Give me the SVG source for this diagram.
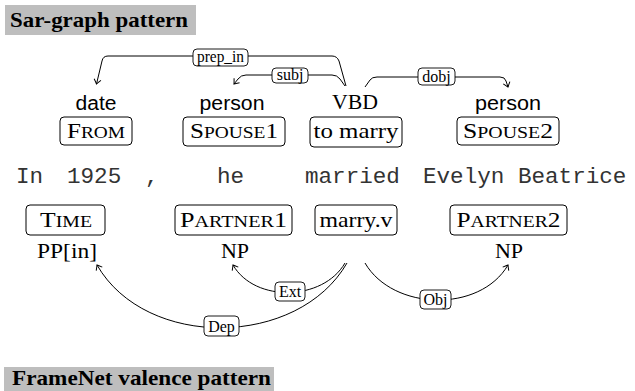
<svg xmlns="http://www.w3.org/2000/svg" width="635" height="391" viewBox="0 0 635 391">
<style>
.title{font-family:"Liberation Serif",serif;font-weight:bold;font-size:21px;fill:#000}
.tbg{fill:#bebebe}
.sans{font-family:"Liberation Sans",Arial,sans-serif;font-size:20px;text-anchor:middle;fill:#000}
.ser{font-family:"Liberation Serif",serif;font-size:22px;text-anchor:middle;fill:#000}
.sc{font-size:17px}
.mono{font-family:"Liberation Mono",monospace;font-size:22.6px;fill:#333}
.box{fill:#fff;stroke:#000;stroke-width:1}
.lbl{fill:#fff;stroke:#000;stroke-width:0.9}
.lt{font-family:"Liberation Serif",serif;font-size:16px;text-anchor:middle;fill:#000}
.edge{fill:none;stroke:#000;stroke-width:1}
</style>
<defs>
<marker id="ah" viewBox="-6 -5 7 10" markerWidth="7" markerHeight="10" refX="0" refY="0" orient="auto" markerUnits="userSpaceOnUse">
<path d="M -4.5 -3.5 Q -1.2 -0.8 0 0 Q -1.2 0.8 -4.5 3.5" fill="none" stroke="#000" stroke-width="1"/>
</marker>
</defs>
<rect width="635" height="391" fill="#fff"/>

<g id="title1">
<rect class="tbg" x="5" y="5" width="191" height="30"/>
<text class="title" x="10" y="27" textLength="178" lengthAdjust="spacingAndGlyphs">Sar-graph pattern</text>
</g>
<g id="title2">
<rect class="tbg" x="4" y="367" width="270" height="30"/>
<text class="title" x="12" y="385" textLength="259" lengthAdjust="spacingAndGlyphs">FrameNet valence pattern</text>
</g>

<g id="connectors">
<path class="edge" marker-end="url(#ah)" d="M 346 86 L 339 61 Q 337 56 332 56 L 108 56 Q 103 56 102 61 L 96.5 84"/>
<path class="edge" marker-end="url(#ah)" d="M 345 86 L 340 79 Q 337 75 332 75 L 246 75 Q 241 75 238 79 L 234 84"/>
<path class="edge" marker-end="url(#ah)" d="M 365 87 L 370 80 Q 372 77 377 77 L 500 77 Q 505 77 506 81 L 508 87"/>
<path class="edge" marker-end="url(#ah)" d="M 347 263 C 298 348, 146 350, 97 265"/>
<path class="edge" marker-end="url(#ah)" d="M 345 263 C 323 301, 255 303, 233 265"/>
<path class="edge" marker-end="url(#ah)" d="M 365 263 C 393 311, 480 313, 508 265"/>
<g id="lbl-prep_in"><rect class="lbl" x="193" y="49" width="55" height="17" rx="4"/><text class="lt" x="220.5" y="62" textLength="47" lengthAdjust="spacingAndGlyphs">prep_in</text></g>
<g id="lbl-subj"><rect class="lbl" x="272" y="68" width="36" height="15" rx="4"/><text class="lt" x="290" y="80">subj</text></g>
<g id="lbl-dobj"><rect class="lbl" x="418" y="68" width="37" height="17" rx="4"/><text class="lt" x="436.5" y="81.5">dobj</text></g>
<g id="lbl-ext"><rect class="lbl" x="275" y="282" width="30" height="19" rx="4"/><text class="lt" x="290" y="297">Ext</text></g>
<g id="lbl-dep"><rect class="lbl" x="204" y="316" width="35" height="20" rx="4"/><text class="lt" x="221.5" y="331.5">Dep</text></g>
<g id="lbl-obj"><rect class="lbl" x="420" y="290" width="31" height="19" rx="4"/><text class="lt" x="435.5" y="305">Obj</text></g>
</g>

<g id="from">
<text class="sans" x="96" y="110" textLength="41" lengthAdjust="spacingAndGlyphs">date</text>
<rect class="box" x="60" y="117" width="72" height="28" rx="4"/>
<text class="ser" x="96" y="138" textLength="58" lengthAdjust="spacingAndGlyphs">F<tspan class="sc">ROM</tspan></text>
</g>
<g id="spouse1">
<text class="sans" x="232" y="110" textLength="65" lengthAdjust="spacingAndGlyphs">person</text>
<rect class="box" x="183" y="117" width="102" height="29" rx="4"/>
<text class="ser" x="234" y="138" textLength="88" lengthAdjust="spacingAndGlyphs">S<tspan class="sc">POUSE</tspan>1</text>
</g>
<g id="tomarry">
<text class="ser" x="355" y="109" textLength="46" lengthAdjust="spacingAndGlyphs">VBD</text>
<rect class="box" x="310" y="117" width="92" height="30" rx="4"/>
<text class="ser" x="356" y="138" textLength="85" lengthAdjust="spacingAndGlyphs">to marry</text>
</g>
<g id="spouse2">
<text class="sans" x="508" y="110" textLength="66" lengthAdjust="spacingAndGlyphs">person</text>
<rect class="box" x="457" y="117" width="102" height="28" rx="4"/>
<text class="ser" x="508" y="138" textLength="90" lengthAdjust="spacingAndGlyphs">S<tspan class="sc">POUSE</tspan>2</text>
</g>

<g id="sentence">
<text class="mono" x="16" y="183">In</text>
<text class="mono" x="67" y="183">1925</text>
<text class="mono" x="145" y="183">,</text>
<text class="mono" x="217" y="183">he</text>
<text class="mono" x="305" y="183">married</text>
<text class="mono" x="423" y="183">Evelyn Beatrice</text>
</g>

<g id="time">
<rect class="box" x="26" y="205" width="79" height="30" rx="4"/>
<text class="ser" x="66" y="227" textLength="52" lengthAdjust="spacingAndGlyphs">T<tspan class="sc">IME</tspan></text>
<text class="ser" x="67" y="258" textLength="60" lengthAdjust="spacingAndGlyphs">PP[in]</text>
</g>
<g id="partner1">
<rect class="box" x="175" y="205" width="117" height="30" rx="4"/>
<text class="ser" x="233.5" y="227" textLength="107" lengthAdjust="spacingAndGlyphs">P<tspan class="sc">ARTNER</tspan>1</text>
<text class="ser" x="235" y="258">NP</text>
</g>
<g id="marryv">
<rect class="box" x="315" y="205" width="82" height="30" rx="4"/>
<text class="ser" x="356" y="227" textLength="73" lengthAdjust="spacingAndGlyphs">marry.v</text>
</g>
<g id="partner2">
<rect class="box" x="450" y="205" width="117" height="30" rx="4"/>
<text class="ser" x="508.5" y="227" textLength="104" lengthAdjust="spacingAndGlyphs">P<tspan class="sc">ARTNER</tspan>2</text>
<text class="ser" x="509" y="258">NP</text>
</g>
</svg>
